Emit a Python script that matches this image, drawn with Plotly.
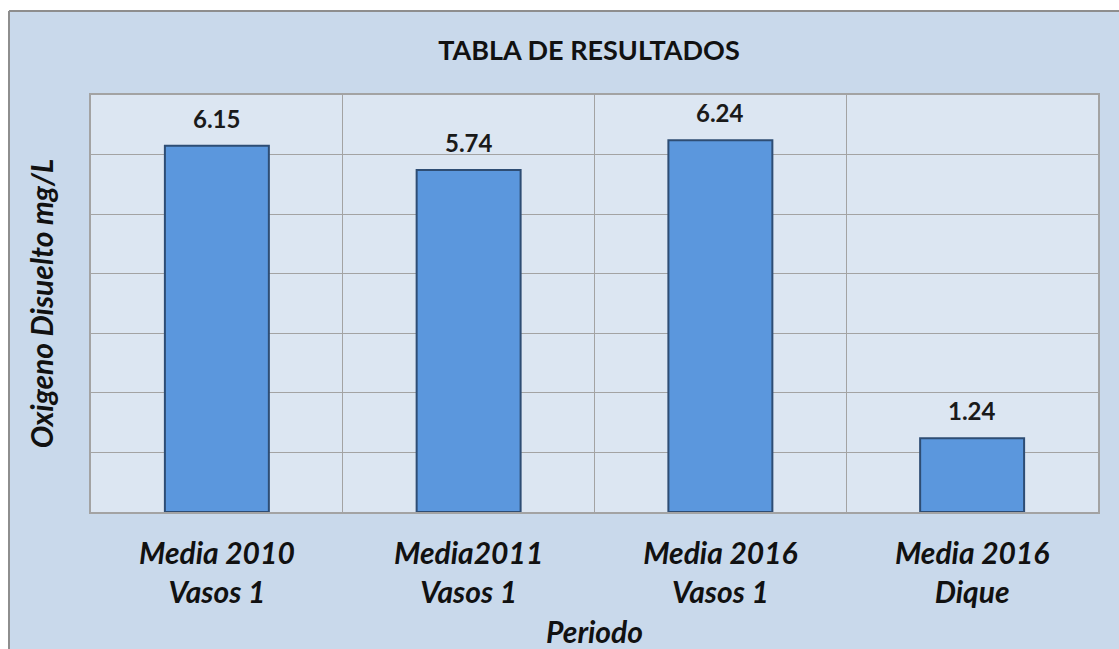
import plotly.graph_objects as go

categories = ["Media 2010<br>Vasos 1", "Media2011<br>Vasos 1", "Media 2016<br>Vasos 1", "Media 2016<br>Dique"]
values = [6.15, 5.74, 6.24, 1.24]
value_labels = ["6.15", "5.74", "6.24", "1.24"]

W, H = 1119, 649
L, R, T, B = 91, 1098, 95, 512
pw, ph = R - L, B - T

def px(x):
    return (x - L) / pw

def py(y):
    return (B - y) / ph

FONT = "Lato, 'Open Sans', sans-serif"

fig = go.Figure()
fig.add_trace(go.Bar(
    x=categories, y=values,
    width=0.413,
    marker=dict(color="#5b97dd", line=dict(color="#2e4d74", width=2)),
    hoverinfo="x+y",
))

annotations = []
for c, v, lab in zip(categories, values, value_labels):
    annotations.append(dict(
        x=c, y=v, xref="x", yref="y", text="<b>" + lab + "</b>", showarrow=False,
        yanchor="bottom", yshift=11, font=dict(family=FONT, size=24, color="#1a1a1a"),
    ))

shapes = [
    dict(type="rect", xref="paper", yref="paper", x0=px(-5), x1=px(9), y0=py(660), y1=py(-5),
         fillcolor="white", line=dict(width=0), layer="above"),
    dict(type="rect", xref="paper", yref="paper", x0=px(-5), x1=px(1130), y0=py(11), y1=py(-5),
         fillcolor="white", line=dict(width=0), layer="above"),
    dict(type="line", xref="paper", yref="paper", x0=px(9), x1=px(9), y0=py(11), y1=py(660),
         line=dict(color="#8e8e8e", width=2), layer="above"),
    dict(type="line", xref="paper", yref="paper", x0=px(9), x1=px(1130), y0=py(11), y1=py(11),
         line=dict(color="#8e8e8e", width=2), layer="above"),
]

fig.update_layout(
    width=W, height=H,
    margin=dict(l=L, r=W - R, t=T, b=H - B, pad=0, autoexpand=False),
    paper_bgcolor="#c9d9eb",
    plot_bgcolor="#dce6f2",
    showlegend=False,
    title=dict(text="<b>TABLA DE RESULTADOS</b>", x=589 / W, xanchor="center", xref="container",
               y=1 - 51 / H, yanchor="middle", yref="container",
               font=dict(family=FONT, size=27, color="#111111")),
    font=dict(family=FONT, color="#111111"),
    annotations=annotations,
    shapes=shapes,
)

fig.update_xaxes(
    automargin=False,
    tickson="boundaries", showgrid=True, gridcolor="#a3a3a3", gridwidth=1,
    showline=True, linecolor="#a3a3a3", linewidth=1.5, mirror=True,
    ticks="", tickfont=dict(family=FONT, size=30, color="#111111"),
    ticklabelstandoff=14,
    title=dict(text="<b><i>Periodo</i></b>", font=dict(family=FONT, size=30, color="#111111"), standoff=16),
    tickprefix="<b><i>", ticksuffix="</i></b>",
)
fig.update_yaxes(
    automargin=False,
    range=[0, 7], dtick=1, showgrid=True, gridcolor="#a3a3a3", gridwidth=1,
    showline=True, linecolor="#a3a3a3", linewidth=1.5, mirror=True,
    showticklabels=False, ticks="", zeroline=False,
    title=dict(text="<b><i>Oxigeno Disuelto mg/L</i></b>", font=dict(family=FONT, size=30, color="#111111"),
               standoff=27),
)

fig.write_html("out.html", config={"displayModeBar": False},
               post_script="document.body.style.margin='0';")
